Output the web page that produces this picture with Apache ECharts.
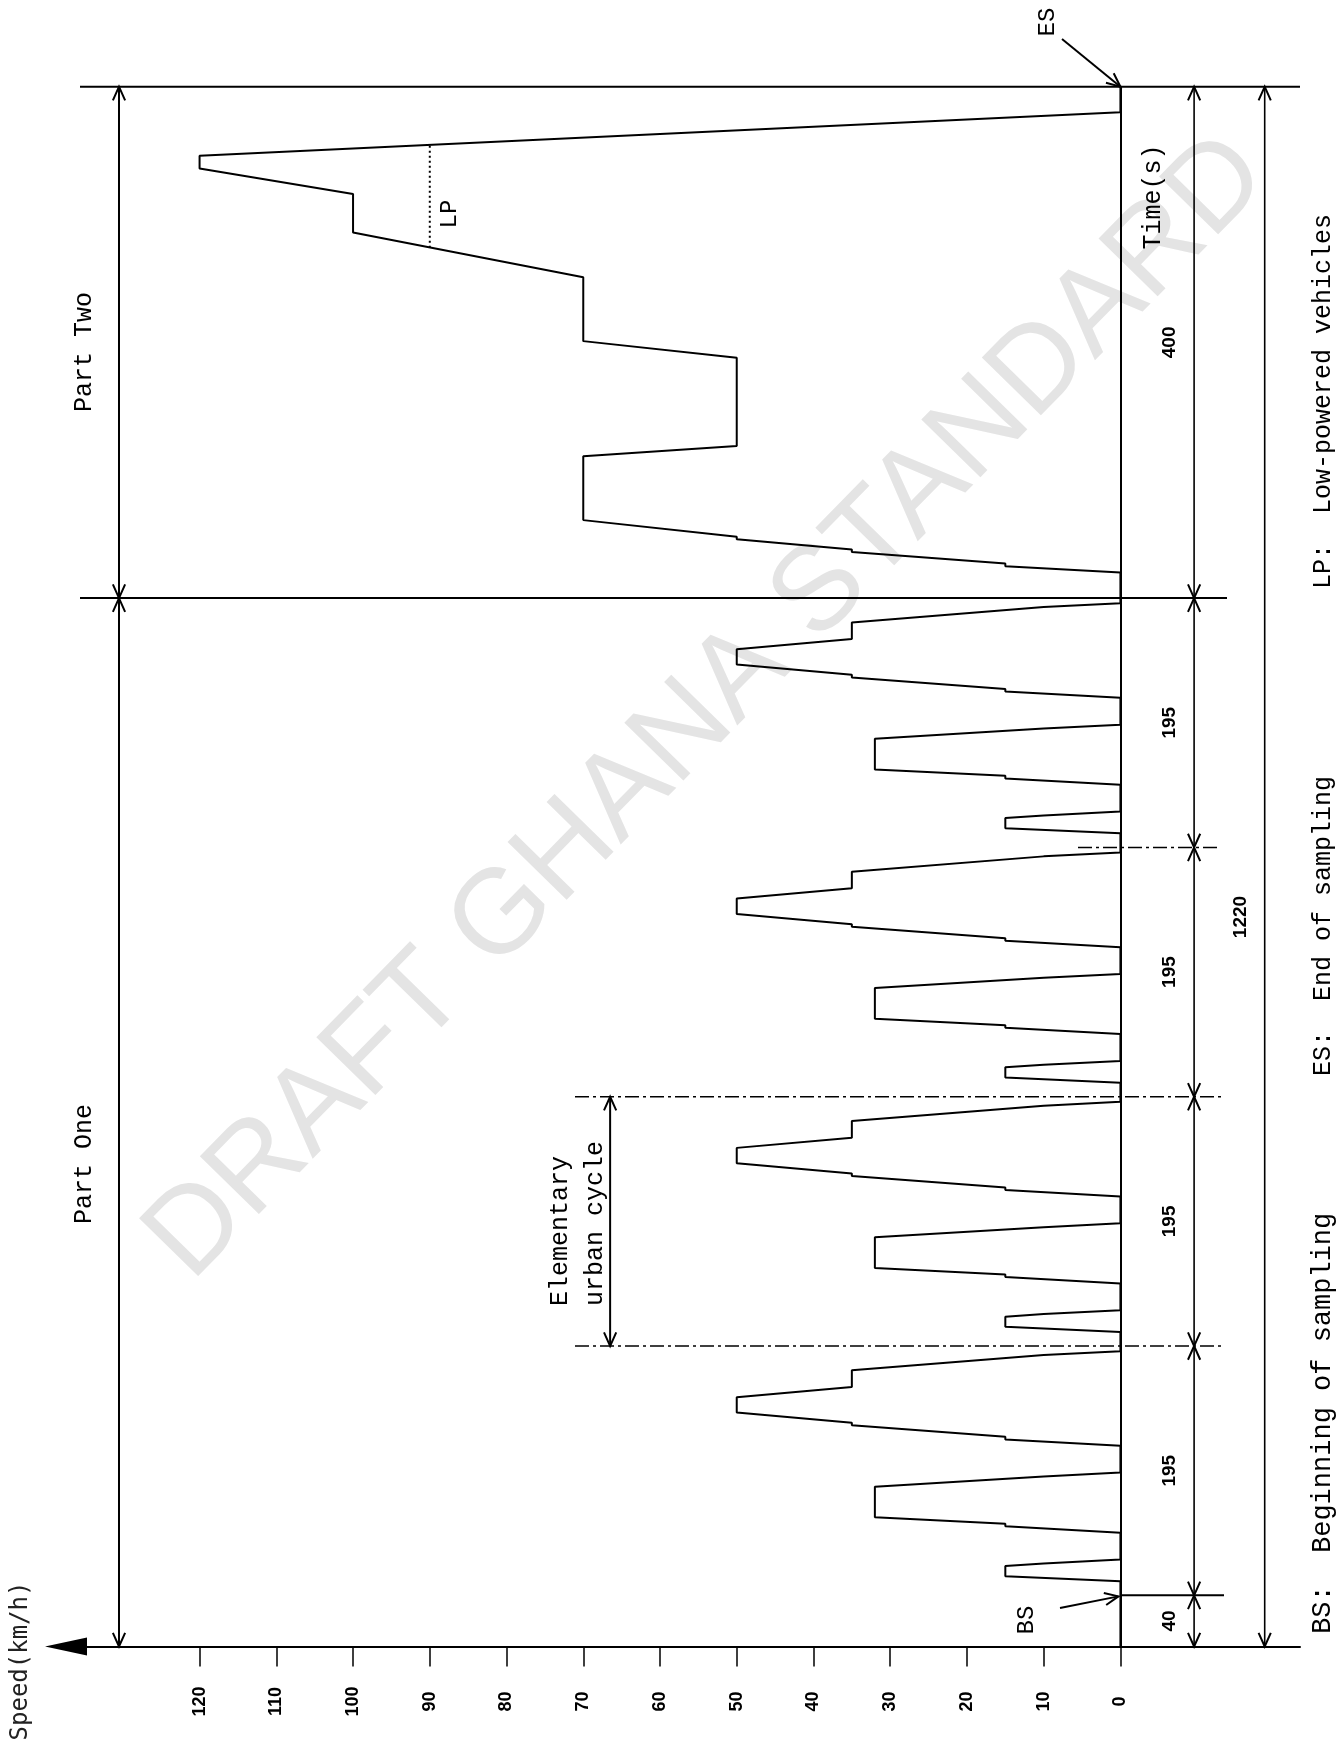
<!DOCTYPE html>
<html><head><meta charset="utf-8">
<script src="https://cdn.jsdelivr.net/npm/echarts@6/dist/echarts.min.js"></script>
<style>html,body{margin:0;padding:0;background:#fff}#c{width:1344px;height:1743px}</style>
</head><body><div id="c"></div>
<script>
// ---- data (ECE urban cycle x4 + extra-urban part) ----
const speedTicks = [0,10,20,30,40,50,60,70,80,90,100,110,120];
const urbanTime  = [0,11,15,23,25,28,49,54,56,61,85,93,96,117,122,124,133,135,143,155,163,176,188,191,195];
const urbanSpeed = [0,0,15,15,10,0,0,15,15,32,32,10,0,0,15,15,35,35,50,50,35,35,10,0,0];
const eudcTime   = [0,20,25,27,36,38,46,48,61,111,119,188,201,251,286,316,336,346,380,400];
const eudcSpeed  = [0,0,15,15,35,35,50,50,70,70,50,50,70,70,100,100,120,120,0,0];
const lpTime     = [274,355];
const lpSpeed    = [90,90];
const cycleStarts = [40,235,430,625];
const partTwoStart = 820;
const endTime = 1220;
const dimBounds = [0,40,235,430,625,820,1220];
const dimLabels = ['40','195','195','195','195','400'];

const trace = [[0,0]];
cycleStarts.forEach(s => urbanTime.forEach((t,i) => trace.push([urbanSpeed[i], s + t])));
eudcTime.forEach((t,i) => trace.push([eudcSpeed[i], partTwoStart + t]));
const lp = lpTime.map((t,i) => [lpSpeed[i], partTwoStart + t]);

const chart = echarts.init(document.getElementById('c'), null, {renderer:'canvas'});
chart.setOption({
  animation:false,
  backgroundColor:'#fff',
  grid:{left:86,right:44,top:86.7,bottom:96.5,containLabel:false},
  xAxis:{type:'value',inverse:true,min:-23.4,max:134.8,
    axisLine:{show:true,lineStyle:{color:'#000',width:2}},
    axisTick:{show:true,customValues:speedTicks,length:20,lineStyle:{color:'#000',width:1.5}},
    axisLabel:{show:true,customValues:speedTicks,rotate:90,margin:55,align:'center',color:'#000',
      fontFamily:'Liberation Sans',fontWeight:'bold',fontSize:18},
    splitLine:{show:false}},
  yAxis:{type:'value',min:0,max:endTime,
    axisLine:{show:true,onZero:true,lineStyle:{color:'#000',width:2}},
    axisTick:{show:false},axisLabel:{show:false},splitLine:{show:false}},
  series:[
    {type:'line',data:trace,symbol:'none',showSymbol:false,lineStyle:{color:'#000',width:2},z:5},
    {type:'line',data:lp,symbol:'none',showSymbol:false,lineStyle:{color:'#000',width:2,type:[2,3]},z:5}
  ]
});

const px = (s,t) => chart.convertToPixel({gridIndex:0},[s,t]);
const g = [];
const L = (x1,y1,x2,y2,extra) => g.push(Object.assign({type:'line',shape:{x1,y1,x2,y2},
  style:{stroke:'#000',lineWidth:2},z:10}, extra||{}));
const head = (tx,ty,fx,fy) => {
  const a = Math.atan2(ty-fy, tx-fx), len = 15, w = 0.42;
  g.push({type:'polyline',shape:{points:[[tx-len*Math.cos(a-w),ty-len*Math.sin(a-w)],[tx,ty],
    [tx-len*Math.cos(a+w),ty-len*Math.sin(a+w)]]},style:{stroke:'#000',lineWidth:2,fill:'none'},z:10});
};
const T = (text,x,y,o) => g.push({type:'text',x,y,rotation:Math.PI/2,
  style:Object.assign({text,fill:'#000',font:'25px "Liberation Mono"',align:'center',verticalAlign:'middle'},o||{}),z:10});

// watermark
g.push({type:'text',x:708,y:708,rotation:45.6*Math.PI/180,z:0,
  style:{text:'DRAFT GHANA STANDARD',fill:'#e4e4e4',font:'120px "Liberation Sans"',align:'center',verticalAlign:'middle'}});

// frame lines
const yTop = px(0,endTime)[1], yP2 = px(0,partTwoStart)[1], y0 = px(0,0)[1];
L(80,yTop,1300,yTop);
L(80,yP2,1227,yP2);
// left vertical dimension line
const xl = px(130.5,0)[0];
L(xl,y0,xl,yTop);
head(xl,yTop,xl,yTop+50); head(xl,yP2,xl,yP2-50); head(xl,yP2,xl,yP2+50); head(xl,y0,xl,y0-50);
// right dimension column
const xd = px(-9.6,0)[0];
for (let i=0;i<dimBounds.length-1;i++){
  const ya = px(0,dimBounds[i])[1], yb = px(0,dimBounds[i+1])[1];
  L(xd,ya,xd,yb,{style:{stroke:'#000',lineWidth:1.6}});
  head(xd,yb,xd,yb+50); head(xd,ya,xd,ya-50);
  T(dimLabels[i], xd-24, (ya+yb)/2, {font:'bold 19px "Liberation Sans"'});
}
const xt = px(-18.8,0)[0];
L(xt,y0,xt,yTop,{style:{stroke:'#000',lineWidth:1.6}});
head(xt,yTop,xt,yTop+50); head(xt,y0,xt,y0-50);
T('1220', xt-24, 917, {font:'bold 19px "Liberation Sans"'});
T('Time(s)', 1153, 197);

// BS line and cycle separators
const yBS = px(0,40)[1];
L(px(0,40)[0],yBS,1224,yBS);
const dash = {style:{stroke:'#000',lineWidth:1.5,lineDash:[14,4,3,4]}};
[235,430].forEach(t => { const y = px(0,t)[1]; L(575,y,1225,y,dash); });
{ const y = px(0,625)[1]; L(1078,y,1217,y,dash); }

// elementary urban cycle arrow
const xe = px(66.5,0)[0], ye1 = px(0,235)[1], ye2 = px(0,430)[1];
L(xe,ye1,xe,ye2);
head(xe,ye2,xe,ye2+50); head(xe,ye1,xe,ye1-50);
T('Elementary', 560, 1306, {align:'left'});
T('urban cycle', 595, 1306, {align:'left'});

// ES / BS pointers
const es = px(0,endTime), bs = px(0,40);
L(1062,39,es[0],es[1],{style:{stroke:'#000',lineWidth:2}}); head(es[0],es[1],1062,39);
L(1060,1608,bs[0]-2,bs[1]+1,{style:{stroke:'#000',lineWidth:2}}); head(bs[0]-2,bs[1]+1,1060,1608);
T('ES', 1048, 22, {font:'24px "Liberation Mono"'});
T('BS', 1027, 1620, {font:'24px "Liberation Mono"'});
T('LP', 450, 214, {font:'24px "Liberation Mono"'});

// part titles
T('Part Two', 84, 352);
T('Part One', 84, 1164);

// legend
T('BS:  Beginning of sampling', 1323, 1634, {align:'left',font:'27px "Liberation Mono"'});
T('ES:  End of sampling', 1323, 1076, {align:'left'});
T('LP:  Low-powered vehicles', 1323, 589, {align:'left'});

// speed axis title and arrow
T('Speed(km/h)', 21, 1661, {font:'24px "DejaVu Sans Mono"',fill:'#222'});
g.push({type:'polygon',shape:{points:[[45,y0],[87,y0-9],[87,y0+9]]},style:{fill:'#000'},z:10});

chart.setOption({graphic:g});
</script></body></html>
